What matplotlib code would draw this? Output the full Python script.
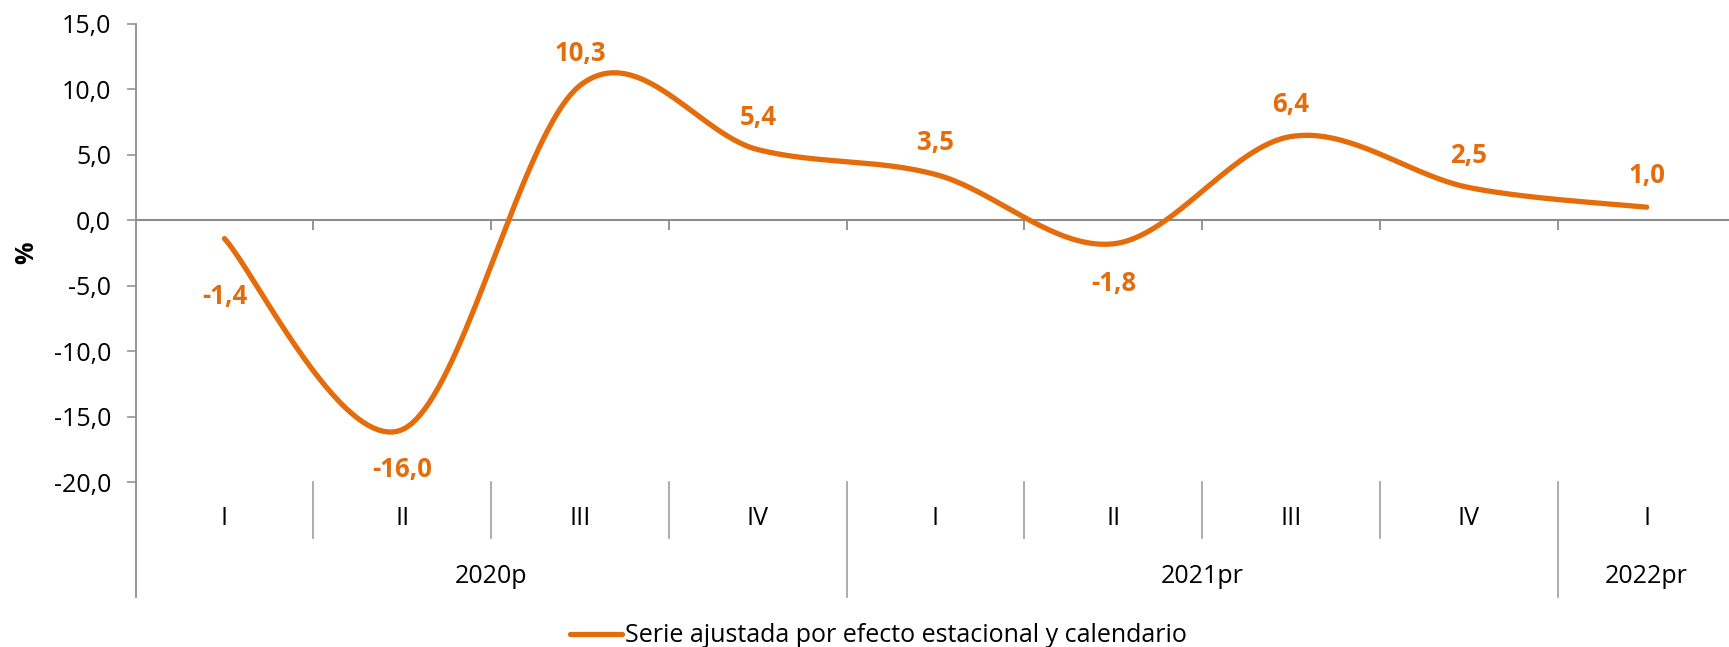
import numpy as np
import matplotlib.pyplot as plt
from matplotlib.ticker import FuncFormatter

# datos
trimestres = ['I', 'II', 'III', 'IV', 'I', 'II', 'III', 'IV', 'I']
anios = ['2020p', '2021pr', '2022pr']
anio_centro = [1.5, 5.5, 8.0]
valores = [-1.4, -16.0, 10.3, 5.4, 3.5, -1.8, 6.4, 2.5, 1.0]
serie = 'Serie ajustada por efecto estacional y calendario'

naranja = '#E46C0A'
gris = '#8C8C8C'

plt.rcParams['font.family'] = ['Open Sans', 'DejaVu Sans']


def suavizar(xs, ys, n=40):
    # curva suavizada tipo Excel (bezier con tangentes de Catmull-Rom)
    xs = np.asarray(xs, float)
    ys = np.asarray(ys, float)
    px, py = [], []
    t = np.linspace(0, 1, n)
    for i in range(len(xs) - 1):
        i0 = max(i - 1, 0)
        i3 = min(i + 2, len(xs) - 1)
        c1x = xs[i] + (xs[i + 1] - xs[i0]) / 6
        c1y = ys[i] + (ys[i + 1] - ys[i0]) / 6
        c2x = xs[i + 1] - (xs[i3] - xs[i]) / 6
        c2y = ys[i + 1] - (ys[i3] - ys[i]) / 6
        a, b, c, d = (1 - t) ** 3, 3 * (1 - t) ** 2 * t, 3 * (1 - t) * t ** 2, t ** 3
        px.extend(a * xs[i] + b * c1x + c * c2x + d * xs[i + 1])
        py.extend(a * ys[i] + b * c1y + c * c2y + d * ys[i + 1])
    return np.array(px), np.array(py)


fig = plt.figure(figsize=(17.29, 6.47), dpi=100)
ax = fig.add_axes([0.0784, 0.255, 0.9254, 0.708])

x = np.arange(len(valores))
cx, cy = suavizar(x, valores)
linea, = ax.plot(cx, cy, color=naranja, lw=3.8, solid_capstyle='round', label=serie)

# etiquetas de datos
for xi, v in zip(x, valores):
    if v < 0:
        off = -40 if xi != 0 else -58
    else:
        off = 32
    ax.annotate(f'{v:.1f}'.replace('.', ','), (xi, v), xytext=(0, off),
                textcoords='offset pixels', ha='center', va='center',
                fontsize=18.5, fontweight='bold', color=naranja)

ax.set_xlim(-0.5, len(valores) - 0.5)
ax.set_ylim(-20, 15)
ax.set_yticks(np.arange(-20, 16, 5))
ax.yaxis.set_major_formatter(FuncFormatter(lambda v, p: f'{v:.1f}'.replace('.', ',')))
ax.tick_params(axis='y', labelsize=18, length=6.5, width=1.1, color=gris, pad=11)
ax.set_xticks([])

for s in ['top', 'right', 'bottom']:
    ax.spines[s].set_visible(False)
ax.spines['left'].set_color(gris)
ax.spines['left'].set_linewidth(1.3)

# eje en cero y marcas
ax.axhline(0, color=gris, lw=1.5, zorder=1)
ax.vlines(np.arange(0.5, len(valores) - 1, 1), 0, -0.75, color=gris, lw=1.3)

# etiquetas de categoria abajo
ax.plot([-0.5, -0.5], [0, -0.251], color=gris, lw=1.3, transform=ax.get_xaxis_transform(), clip_on=False)
for b in [0.5, 1.5, 2.5, 4.5, 5.5, 6.5]:
    ax.plot([b, b], [0, -0.122], color='#A6A6A6', lw=1.3, transform=ax.get_xaxis_transform(), clip_on=False)
for b in [3.5, 7.5]:
    ax.plot([b, b], [0, -0.251], color='#A6A6A6', lw=1.3, transform=ax.get_xaxis_transform(), clip_on=False)
for xi, q in zip(x, trimestres):
    ax.text(xi, -0.079, q, ha='center', va='center', fontsize=18,
            transform=ax.get_xaxis_transform())
for xc, a in zip(anio_centro, anios):
    ax.text(xc, -0.207, a, ha='center', va='center', fontsize=18,
            transform=ax.get_xaxis_transform())

ax.set_ylabel('%', fontsize=18, fontweight='bold')
ax.yaxis.set_label_coords(-0.060, 0.5)

fig.legend(handles=[linea], loc='center', bbox_to_anchor=(878 / 1729, 1 - 636 / 647),
           frameon=False, fontsize=18, handlelength=2.1, handletextpad=0.1)

fig.savefig('out.png', dpi=100)
plt.close()
